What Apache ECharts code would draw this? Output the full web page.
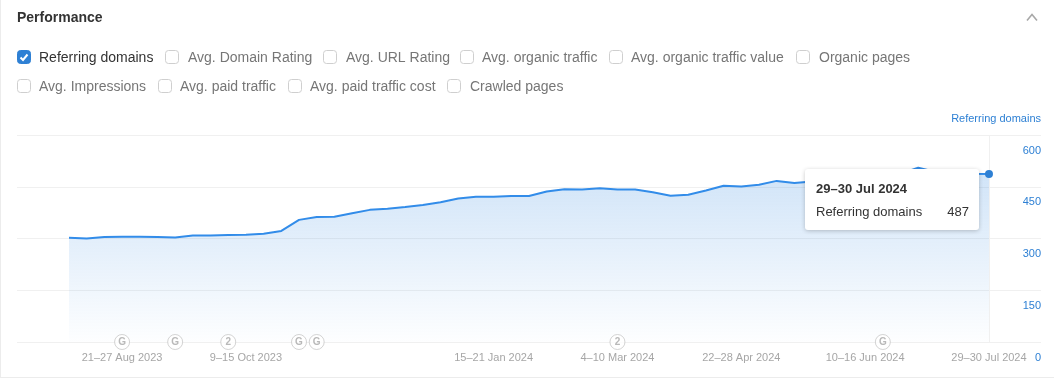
<!DOCTYPE html>
<html>
<head>
<meta charset="utf-8">
<style>html,body{margin:0;padding:0;background:#fff}#c{width:1054px;height:381px}</style>
<script src="https://cdn.jsdelivr.net/npm/echarts@6/dist/echarts.min.js"></script>
</head>
<body>
<div id="c"></div>
<script>
var titleText = 'Performance';
var checkLabels = ['Referring domains','Avg. Domain Rating','Avg. URL Rating','Avg. organic traffic','Avg. organic traffic value','Organic pages','Avg. Impressions','Avg. paid traffic','Avg. paid traffic cost','Crawled pages'];
var checkedFlags = [true,false,false,false,false,false,false,false,false,false];
var referringDomains = [302,300,304,305,305,304,303,309,309,310,311,314,322,354,362,363,373,383,386,391,397,405,416,421,421,423,423,436,443,442,446,442,442,434,424,427,439,453,451,456,467,461,465,470,476,480,484,488,505,493,490,488,487];
var tickIndexes = [3,10,24,31,38,45,52];
var tickLabels = ['21–27 Aug 2023','9–15 Oct 2023','15–21 Jan 2024','4–10 Mar 2024','22–28 Apr 2024','10–16 Jun 2024','29–30 Jul 2024'];
var eventIndexes = [3,6,9,13,14,31,46];
var eventLabels = ['G','G','2','G','G','2','G'];
var seriesName = 'Referring domains';
var tipTitle = '29–30 Jul 2024';

// layout (kept apart from the data)
var checkX = [17,165,323,460,609,796,17,158,288,447];
var textX  = [39,188,346,482,631,819,39,180,310,470];
var rowY   = [57,57,57,57,57,57,86,86,86,86];
var FONT = '"Liberation Sans",Arial,sans-serif';
var BLUE = '#2e80d4';
var lastIndex = referringDomains.length-1;

var graphics = [
  {type:'rect',silent:true,shape:{x:0,y:0,width:1,height:378},style:{fill:'#ececec'}},
  {type:'rect',silent:true,shape:{x:0,y:377,width:1054,height:1},style:{fill:'#ececec'}},
  {type:'text',silent:true,x:17,y:18,style:{text:titleText,font:'bold 14px '+FONT,fill:'#333333',textVerticalAlign:'middle'}},
  {type:'polyline',silent:true,shape:{points:[[1027,20.5],[1032,14.5],[1037,20.5]]},style:{stroke:'#a8a8a8',lineWidth:1.6,fill:null}},
  {type:'text',silent:true,x:1041,y:119,style:{text:seriesName,font:'11px '+FONT,fill:BLUE,textAlign:'right',textVerticalAlign:'middle'}}
];
checkLabels.forEach(function(t,i){
  var on = checkedFlags[i];
  graphics.push({type:'rect',silent:true,shape:{x:checkX[i]+.5,y:rowY[i]-6.5,width:13,height:13,r:3},
    style:{fill:on?BLUE:'#fff',stroke:on?BLUE:'#cfcfcf',lineWidth:1}});
  if(on) graphics.push({type:'polyline',silent:true,
    shape:{points:[[checkX[i]+3.5,rowY[i]+.5],[checkX[i]+6,rowY[i]+3],[checkX[i]+10.5,rowY[i]-2.5]]},
    style:{stroke:'#fff',lineWidth:2,fill:null}});
  graphics.push({type:'text',silent:true,x:textX[i],y:rowY[i]+1,
    style:{text:t,font:'14px '+FONT,fill:on?'#333333':'#767676',textVerticalAlign:'middle'}});
});

var chart = echarts.init(document.getElementById('c'),null,{renderer:'canvas'});
chart.setOption({
  animation:false,
  graphic:graphics,
  grid:{left:17,right:13,top:135,bottom:39,containLabel:false,outerBoundsMode:'none'},
  xAxis:{type:'value',min:-2.94,max:54.94,
    axisLine:{show:false},axisTick:{show:false},splitLine:{show:false},
    axisLabel:{customValues:tickIndexes,margin:10,fontSize:11,color:'#a6a6a6',fontFamily:FONT,hideOverlap:false,showMinLabel:true,showMaxLabel:true,
      formatter:function(v){var k=tickIndexes.indexOf(Math.round(v));return k>=0?tickLabels[k]:'';}}
  },
  yAxis:{type:'value',position:'right',min:0,max:600,interval:150,
    axisLine:{show:false},axisTick:{show:false},
    splitLine:{lineStyle:{color:'#f0f0f0',width:1}},
    axisLabel:{inside:true,margin:0,align:'right',verticalAlign:'top',padding:[10,0,0,0],fontSize:11,color:BLUE,fontFamily:FONT,showMinLabel:true,showMaxLabel:true}
  },
  tooltip:{trigger:'axis',alwaysShowContent:true,transitionDuration:0,showDelay:0,hideDelay:0,
    axisPointer:{type:'none'},
    position:[805,169],
    padding:0,borderWidth:0,backgroundColor:'#fff',
    extraCssText:'box-shadow:0 1px 4px rgba(0,0,0,.22);border-radius:3px;width:174px;height:61px;box-sizing:border-box;',
    formatter:function(ps){
      var p=ps.filter(function(x){return x.seriesIndex===0;})[0];
      var v=p?p.value[1]:referringDomains[lastIndex];
      return '<div style="font:bold 13px '+FONT.replace(/"/g,"'")+';color:#333;padding:12px 10px 0 11px;line-height:15px">'+tipTitle+'</div>'+
        '<div style="font:13px '+FONT.replace(/"/g,"'")+';color:#333;padding:8px 10px 0 11px;line-height:15px;display:flex;justify-content:space-between"><span>'+seriesName+'</span><span>'+v+'</span></div>';
    }
  },
  series:[
    {name:seriesName,type:'line',data:referringDomains.map(function(v,i){return [i,v];}),
      showSymbol:false,symbol:'none',smooth:false,
      lineStyle:{color:BLUE,width:2},itemStyle:{color:BLUE},
      areaStyle:{color:new echarts.graphic.LinearGradient(0,0,0,1,[
        {offset:0,color:'rgba(52,128,205,0.34)'},{offset:1,color:'rgba(52,128,205,0.01)'}])},
      markLine:{silent:true,symbol:'none',animation:false,label:{show:false},
        lineStyle:{color:'#f0f0f0',width:1,type:'solid'},data:[{xAxis:lastIndex}]},
      markPoint:{silent:true,animation:false,symbol:'circle',symbolSize:8,itemStyle:{color:BLUE},label:{show:false},
        data:[{coord:[lastIndex,referringDomains[lastIndex]]}]}
    },
    {type:'scatter',data:eventIndexes.map(function(x){return [x,0];}),symbol:'circle',symbolSize:15,clip:false,z:5,silent:true,tooltip:{show:false},
      itemStyle:{color:'#fff',borderColor:'#c8c8c8',borderWidth:1},
      label:{show:true,position:'inside',fontSize:10,fontWeight:'bold',color:'#a8a8a8',fontFamily:FONT,
        formatter:function(p){return eventLabels[p.dataIndex];}}
    }
  ]
});
chart.dispatchAction({type:'showTip',seriesIndex:0,dataIndex:lastIndex});
</script>
</body>
</html>
